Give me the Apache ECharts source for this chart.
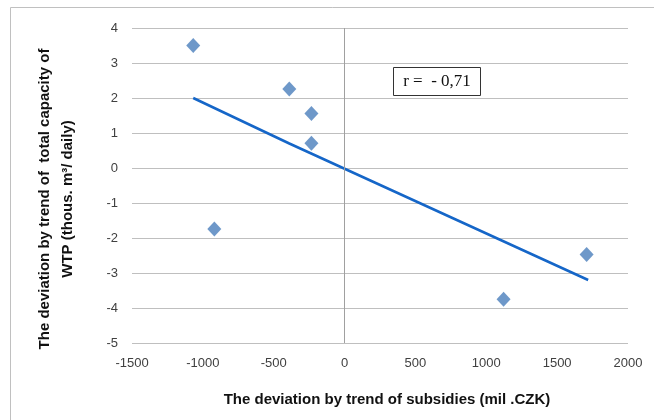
<!DOCTYPE html>
<html><head><meta charset="utf-8">
<script src="https://cdn.jsdelivr.net/npm/echarts@6/dist/echarts.min.js"></script>
<style>html,body{margin:0;padding:0;background:#fff}#c{width:654px;height:420px}</style>
</head><body><div id="c"></div>
<script>
const subsidies = [-1068, -390, -234, -234, -919, 1122, 1708];
const capacity = [3.50, 2.26, 1.56, 0.71, -1.74, -3.75, -2.47];
const trendX = [-1068, -390, 1719];
const trendY = [2.0, 0.7, -3.2];
const xTicks = {min: -1500, max: 2000, step: 500};
const yTicks = {min: -5, max: 4, step: 1};
const xTitle = 'The deviation by trend of subsidies (mil .CZK)';
const yTitle = 'The deviation by trend of  total capacity of\nWTP (thous. m³/ daily)';
const rLabel = 'r =  - 0,71';

const chart = echarts.init(document.getElementById('c'), null, {renderer: 'canvas'});
const font = 'Liberation Sans';
chart.setOption({
  animation: false,
  backgroundColor: '#fff',
  grid: {left: 132, right: 26, top: 28, bottom: 77},
  xAxis: {
    type: 'value', min: xTicks.min, max: xTicks.max, interval: xTicks.step,
    axisLine: {show: false}, axisTick: {show: false}, splitLine: {show: false},
    axisLabel: {color: '#404040', fontFamily: font, fontSize: 13, margin: 14, formatter: v => String(v)},
    name: xTitle, nameLocation: 'middle', nameGap: 49,
    nameTextStyle: {fontFamily: font, fontWeight: 'bold', fontSize: 15, color: '#111', padding: [0,0,0,14]}
  },
  yAxis: {
    type: 'value', min: yTicks.min, max: yTicks.max, interval: yTicks.step,
    axisLine: {show: false}, axisTick: {show: false},
    splitLine: {lineStyle: {color: '#bfbfbf', width: 1}},
    axisLabel: {color: '#404040', fontFamily: font, fontSize: 13, margin: 14, formatter: v => String(v)}
  },
  graphic: [
    {type: 'rect', shape: {x: 10.5, y: 7.5, width: 700, height: 500},
     style: {fill: null, stroke: '#c0c0c0', lineWidth: 1}, silent: true, z: -1},
    {type: 'text', x: 56, y: 199, rotation: Math.PI / 2,
     style: {text: yTitle, fontFamily: font, fontWeight: 'bold', fontSize: 15, fill: '#111',
       align: 'center', verticalAlign: 'middle', lineHeight: 23}},
    {type: 'group', x: 393, y: 67, children: [
      {type: 'rect', shape: {x: 0.5, y: 0.5, width: 87, height: 28},
       style: {fill: '#fff', stroke: '#333', lineWidth: 1}},
      {type: 'text', x: 44, y: 15,
       style: {text: rLabel, fontFamily: 'Liberation Serif', fontSize: 17, fill: '#111',
         align: 'center', verticalAlign: 'middle'}}
    ]}
  ],
  series: [
    {
      type: 'line', data: trendX.map((x, i) => [x, trendY[i]]),
      showSymbol: false, symbol: 'none',
      lineStyle: {color: '#1566c8', width: 2.5},
      markLine: {
        silent: true, symbol: ['none', 'none'], label: {show: false},
        lineStyle: {color: '#a0a0a0', width: 1, type: 'solid'},
        data: [{xAxis: 0}]
      },
      z: 2
    },
    {
      type: 'scatter', data: subsidies.map((x, i) => [x, capacity[i]]),
      symbol: 'diamond', symbolSize: [14, 15],
      itemStyle: {color: '#4a7ebb'}, z: 3
    }
  ]
});
</script></body></html>
